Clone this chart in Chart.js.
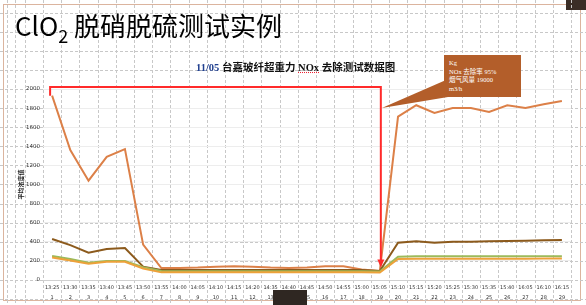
<!DOCTYPE html>
<html>
<head>
<meta charset="utf-8">
<script src="https://cdn.jsdelivr.net/npm/chart.js@4.4.1/dist/chart.umd.min.js"></script>
<style>
  html, body { margin: 0; padding: 0; background: #fff; }
  #slide { position: relative; width: 586px; height: 305px; overflow: hidden; background: #fff; }
  #slide canvas { position: absolute; left: 0; top: 0; }
  .frame { position: absolute; left: 3px; top: 4px; width: 578px; height: 297px; border: 1px solid #dbb49e; box-sizing: border-box; }
  .corner { position: absolute; left: 566px; top: 0; width: 20px; height: 10px; background: #3a2d26; }
  .tab { position: absolute; left: 273px; top: 290px; width: 34px; height: 15px; background: #2f2722; }
  .main-title { position: absolute; left: 15px; top: 12px; font-family: "Noto Sans CJK SC", "Noto Sans", sans-serif; font-size: 26px; line-height: 1; color: #000; white-space: nowrap; }
  .main-title sub { font-size: 18px; vertical-align: -7px; line-height: 0; }
  .chart-title { position: absolute; left: 196px; top: 62px; font-family: "Liberation Serif", "Noto Sans CJK SC", serif; font-weight: bold; font-size: 10.5px; line-height: 12px; color: #111; white-space: nowrap; }
  .chart-title .date { color: #1f3f8f; }
  .chart-title .spell { text-decoration: underline dotted #e23; }
  .callout { position: absolute; left: 444px; top: 55px; width: 77px; height: 42px; background: #b35e2a; color: #fff; font-family: "Liberation Serif", "Noto Sans CJK SC", serif; font-size: 6.5px; line-height: 8.6px; padding: 4px 0 0 5px; box-sizing: border-box; white-space: nowrap; }
</style>
</head>
<body>
<div id="slide">
  <div class="frame"></div>
  <div class="corner"></div>
  <canvas id="chart" width="586" height="305"></canvas>
  <div class="main-title">ClO<sub>2</sub> 脱硝脱硫测试实例</div>
  <div class="chart-title"><span class="date">11/05</span> 台嘉玻纤超重力 <span class="spell">NOx</span> 去除测试数据图</div>
  <div class="callout">Kg<br>NOx 去除率 95%<br>烟气风量 19000<br>m3/h</div>
  <div class="tab"></div>
</div>
<script>
// sampling times and run index along the x axis
const times = ["13:25","13:30","13:35","13:40","13:45","13:50","13:55","14:00","14:05","14:10",
               "14:15","14:20","14:35","14:40","14:45","14:50","14:55","15:00","15:05","15:10",
               "15:15","15:20","15:25","15:30","15:35","15:40","16:05","16:10","16:15"];
const runIndex = ["1","2","3","4","5","6","7","8","9","10","11","12","13","14","15",
                  "16","17","18","19","20","21","22","23","24","25","26","27","28","29"];

// measured concentrations
const seriesOrange = [1930,1360,1040,1290,1370,370,125,125,130,140,145,140,130,125,130,145,145,110,95,
                      1710,1830,1750,1800,1800,1760,1830,1800,1840,1875];
const seriesBrown  = [430,365,285,325,335,140,105,105,105,105,105,105,105,105,105,105,105,105,95,
                      390,405,390,400,400,405,408,410,415,418];
const seriesGreen  = [252,220,180,200,200,135,95,92,92,92,92,92,92,92,92,92,92,92,90,
                      244,248,248,248,248,248,248,248,250,250];
const seriesYellow = [235,205,170,190,190,120,80,80,80,80,80,80,80,80,80,80,80,80,78,
                      220,222,222,222,222,222,222,222,224,224];

const yTicks = { min: 0, max: 2000, step: 200 };
const yTitle = "平均浓度值";

// dashed guide grid across the whole slide, aligned with the category and value steps
const slideGrid = {
  id: "slideGrid",
  beforeDraw(chart) {
    const { ctx, width, height } = chart;
    const x = chart.scales.x, y = chart.scales.y;
    const step = x.getPixelForValue(1) - x.getPixelForValue(0);
    let px = x.getPixelForValue(0) - step / 2;
    while (px - step > 0) px -= step;
    const ystep = y.getPixelForValue(0) - y.getPixelForValue(yTicks.step);
    let py = y.getPixelForValue(0);
    while (py + ystep < height) py += ystep;
    ctx.save();
    ctx.strokeStyle = "#c8c8c8";
    ctx.lineWidth = 1;
    ctx.setLineDash([3, 2]);
    ctx.beginPath();
    for (; px < width; px += step) {
      const r = Math.round(px) + 0.5;
      ctx.moveTo(r, 0); ctx.lineTo(r, height);
    }
    for (; py > 0; py -= ystep) {
      const r = Math.round(py) + 0.5;
      ctx.moveTo(0, r); ctx.lineTo(width, r);
    }
    ctx.moveTo(15.5, 0); ctx.lineTo(15.5, height);
    ctx.stroke();
    ctx.restore();
  }
};

// red bracket marking the period before the switch, plus the callout pointer
const annotations = {
  id: "annotations",
  afterDatasetsDraw(chart) {
    const { ctx } = chart;
    const x = chart.scales.x, y = chart.scales.y;
    const xa = x.getPixelForValue(0) - 2;
    const xb = x.getPixelForValue(18) + 1;
    const yStart = y.getPixelForValue(seriesOrange[0]);
    const yTop = y.getPixelForValue(yTicks.max) - 2;
    const yEnd = y.getPixelForValue(130);
    ctx.save();
    ctx.strokeStyle = "#ff2a2a";
    ctx.fillStyle = "#ff2a2a";
    ctx.lineWidth = 2;
    ctx.beginPath();
    ctx.moveTo(xa, yStart);
    ctx.lineTo(xa, yTop);
    ctx.lineTo(xb, yTop);
    ctx.lineTo(xb, yEnd - 7);
    ctx.stroke();
    ctx.beginPath();
    ctx.moveTo(xb - 3.5, yEnd - 8);
    ctx.lineTo(xb + 3.5, yEnd - 8);
    ctx.lineTo(xb, yEnd);
    ctx.closePath();
    ctx.fill();
    // callout wedge
    const tipX = x.getPixelForValue(18) + 2;
    const tipY = y.getPixelForValue(1800);
    ctx.fillStyle = "#b35e2a";
    ctx.beginPath();
    ctx.moveTo(446, 80);
    ctx.lineTo(454, 96);
    ctx.lineTo(tipX, tipY);
    ctx.closePath();
    ctx.fill();
    ctx.restore();
  }
};

const mkLine = (label, data, color) => ({
  label, data, borderColor: color, backgroundColor: color,
  borderWidth: 2, pointRadius: 0, tension: 0, fill: false
});

new Chart(document.getElementById("chart"), {
  type: "line",
  data: {
    labels: times.map((t, i) => [t, runIndex[i]]),
    datasets: [
      mkLine("A", seriesYellow, "#eda13a"),
      mkLine("B", seriesGreen, "#9cba5a"),
      mkLine("C", seriesBrown, "#8c5a1c"),
      mkLine("D", seriesOrange, "#dc8048")
    ]
  },
  options: {
    responsive: false,
    animation: false,
    devicePixelRatio: 1,
    layout: { padding: { left: 17, right: 15, top: 89, bottom: 0 } },
    plugins: { legend: { display: false }, tooltip: { enabled: false }, title: { display: false } },
    scales: {
      x: {
        offset: true,
        grid: { display: false, drawTicks: false, tickLength: 0 },
        border: { display: true, color: "#d0d0d0" },
        ticks: { autoSkip: false, maxRotation: 0, minRotation: 0, padding: 3, color: "#333",
                 font: { family: "DejaVu Sans", size: 5, lineHeight: 2 } },
        afterFit(scale) { scale.height = 25; }
      },
      y: {
        min: yTicks.min, max: yTicks.max,
        grid: { color: "#ededed", drawTicks: false },
        border: { display: false },
        ticks: { stepSize: yTicks.step, padding: 3, color: "#333",
                 font: { family: "DejaVu Sans", size: 5.5 },
                 callback: (v) => String(v) },
        title: { display: true, text: yTitle, color: "#222", padding: 0,
                 font: { family: "Noto Sans CJK SC", size: 6, weight: "bold" } },
        afterFit(scale) { scale.width = 26; }
      }
    }
  },
  plugins: [slideGrid, annotations]
});
</script>
</body>
</html>
